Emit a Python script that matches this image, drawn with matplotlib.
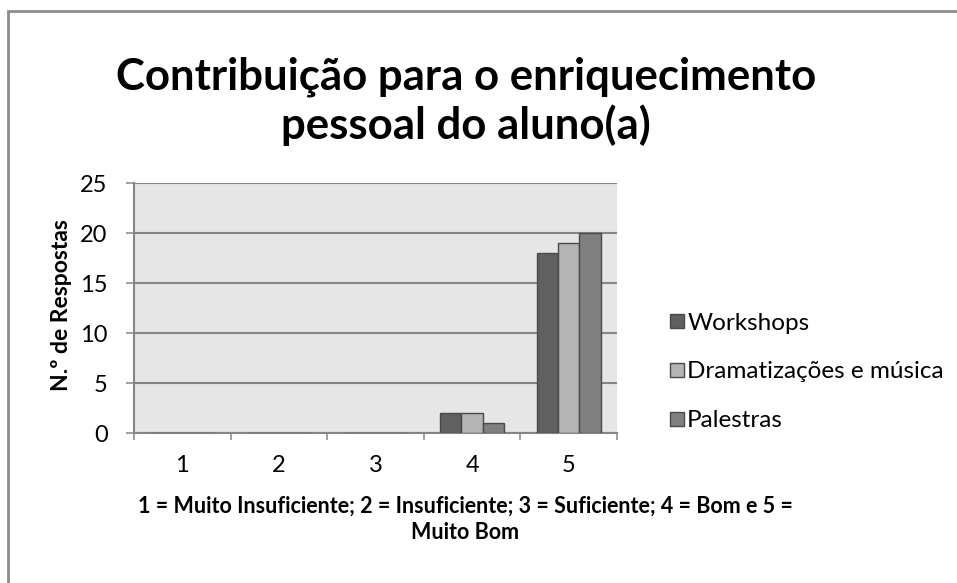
import numpy as np
import matplotlib
matplotlib.use("Agg")
import matplotlib.pyplot as plt
from matplotlib.patches import Rectangle

# survey answers per rating (1..5)
ratings = [1, 2, 3, 4, 5]
series = ["Workshops", "Dramatizações e música", "Palestras"]
workshops = [0, 0, 0, 2, 18]
dramatizacoes = [0, 0, 0, 2, 19]
palestras = [0, 0, 0, 1, 20]
colors = ["#606060", "#b4b4b4", "#808080"]

plt.rcParams["font.family"] = ["Lato", "DejaVu Sans"]

fig = plt.figure(figsize=(9.57, 5.83), dpi=100)
ax = fig.add_axes([134 / 957, 1 - 433 / 583, (617 - 134) / 957, 250 / 583])
ax.set_facecolor("#e6e6e6")

x = np.array(ratings, dtype=float)
w = 0.22
for k, (name, vals, c) in enumerate(zip(series, [workshops, dramatizacoes, palestras], colors)):
    ax.bar(x + (k - 1) * w, vals, width=w, color=c, edgecolor="#4a4a4a", linewidth=1.0,
           label=name, zorder=3)

ax.set_xlim(0.5, 5.5)
ax.set_ylim(0, 25)
ax.set_yticks(range(0, 26, 5))
ax.yaxis.grid(True, color="#868686", linewidth=1.5, zorder=1)
ax.set_axisbelow(True)

# category boundaries carry the ticks, labels sit in between
ax.set_xticks(np.arange(0.5, 5.6, 1.0))
ax.set_xticklabels([])
ax.set_xticks(x, minor=True)
ax.set_xticklabels([str(r) for r in ratings], minor=True)
ax.tick_params(axis="x", which="major", length=5, width=1.1, color="#868686", direction="out")
ax.tick_params(axis="x", which="minor", length=0, pad=16, labelsize=17)
ax.tick_params(axis="y", length=6, width=1.1, color="#868686", labelsize=17, pad=13)

for s in ["top", "right"]:
    ax.spines[s].set_visible(False)
for s in ["left", "bottom"]:
    ax.spines[s].set_color("#868686")
    ax.spines[s].set_linewidth(1.5)

fig.text(62 / 957, 1 - 305 / 583, "N.º de Respostas", rotation=90, ha="center", va="center",
         fontsize=16.5, fontweight="bold")

fig.text(466 / 957, 1 - 101 / 583, "Contribuição para o enriquecimento\npessoal do aluno(a)",
         ha="center", va="center", fontsize=31.5, fontweight="bold", linespacing=1.22)
fig.text(465 / 957, 1 - 519 / 583, "1 = Muito Insuficiente; 2 = Insuficiente; 3 = Suficiente; 4 = Bom e 5 =\nMuito Bom",
         ha="center", va="center", fontsize=15.5, fontweight="bold", linespacing=1.3)

leg = ax.legend(loc="center left", bbox_to_anchor=(658 / 957, 1 - 372 / 583),
                bbox_transform=fig.transFigure, frameon=False, fontsize=17.5, borderpad=0,
                handlelength=0.55, handleheight=0.55, handletextpad=0.15, labelspacing=1.15)

# outer chart frame
fig.patches.append(Rectangle((8 / 957, -0.05), 1.1, 1 - 11 / 583 + 0.05, transform=fig.transFigure,
                             fill=False, edgecolor="#8c8c8c", linewidth=2))

fig.savefig("out.png", dpi=100)
